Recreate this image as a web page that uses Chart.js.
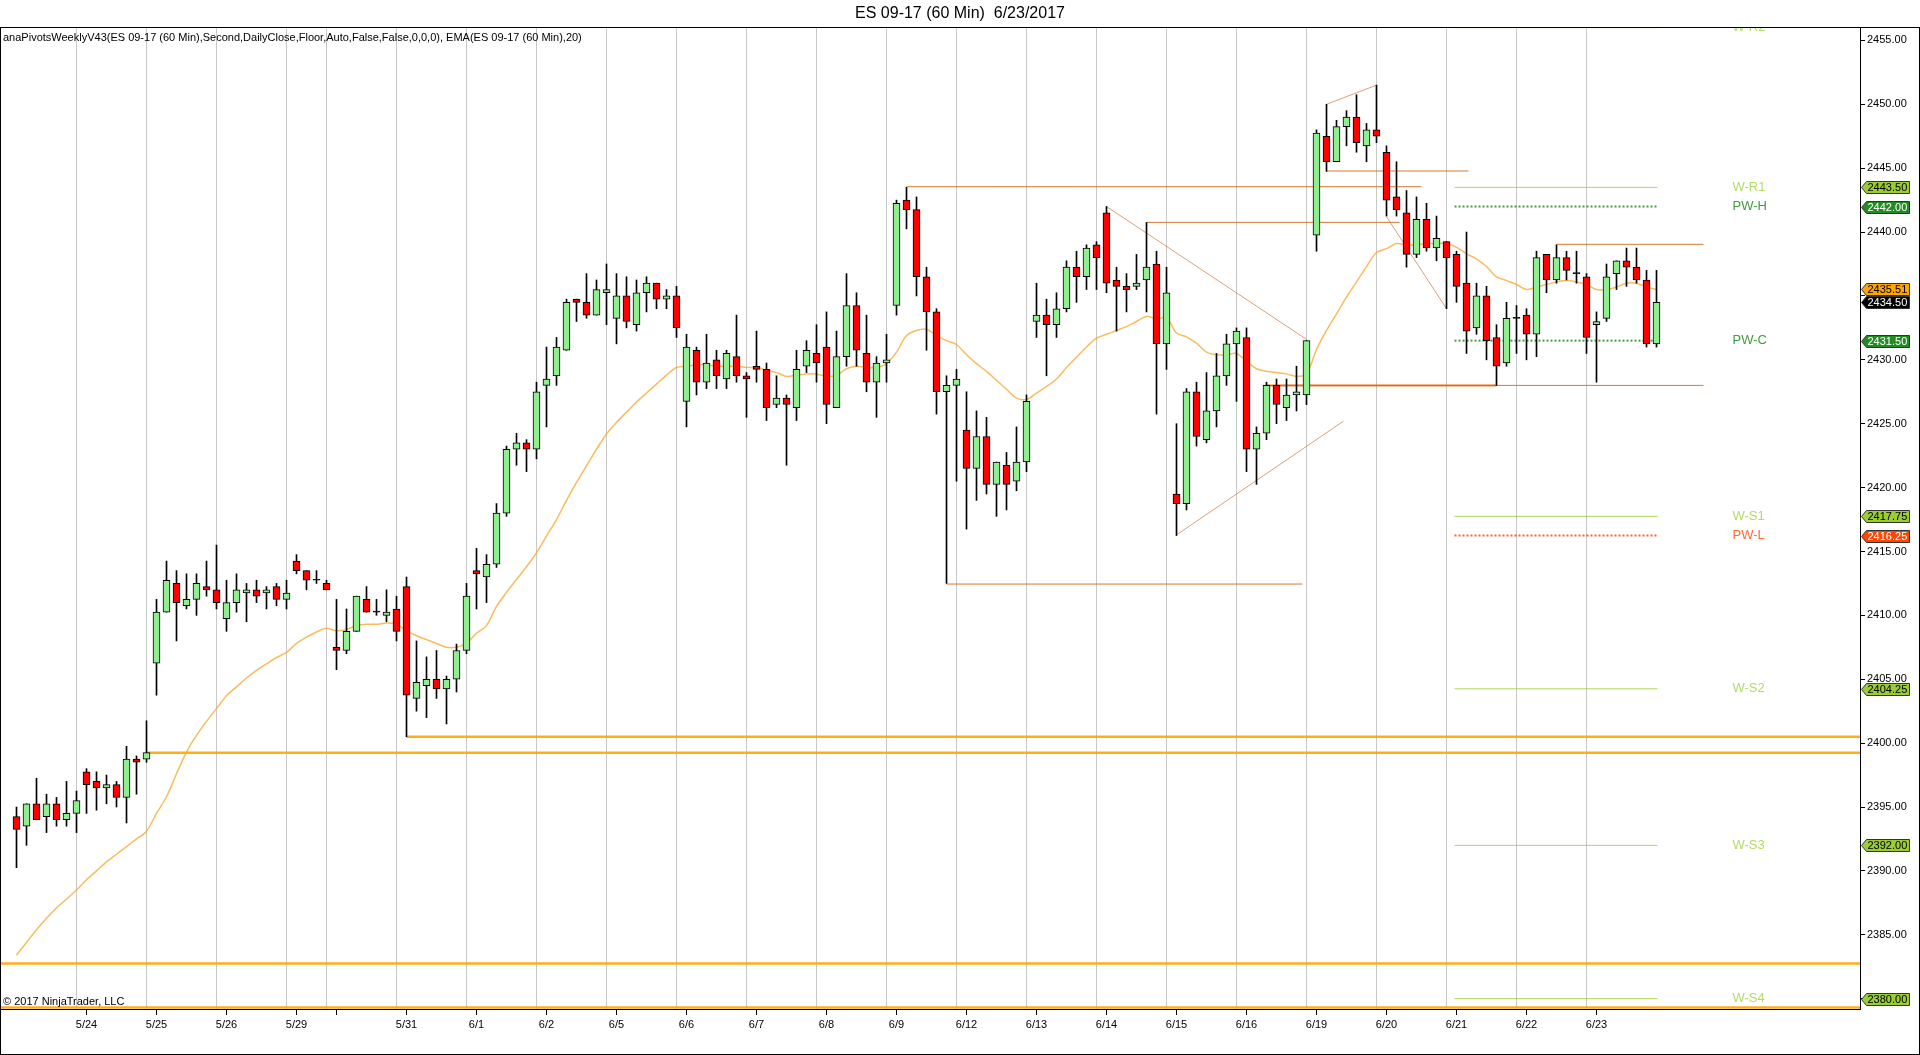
<!DOCTYPE html>
<html>
<head>
<meta charset="utf-8">
<script src="https://cdn.jsdelivr.net/npm/chart.js@4.4.1/dist/chart.umd.min.js"></script>
<style>
  html, body { margin: 0; padding: 0; background: #fff; overflow: hidden; }
  canvas { display: block; }
</style>
</head>
<body>
<canvas id="chart" width="1920" height="1055"></canvas>
<script>
// ---- data ----
const days = ["5/23","5/24","5/25","5/26","5/29","5/30","5/31","6/1","6/2","6/5","6/6","6/7","6/8",
              "6/9","6/12","6/13","6/14","6/15","6/16","6/19","6/20","6/21","6/22","6/23"];
const barsPerDay = [7,7,7,7,4,7,7,7,7,7,7,7,7,7,7,7,7,7,7,7,7,7,7,7];
const unlabeledDays = ["5/23","5/30"];

const opens = [
  2394.25,2393.5,2395.25,2394.25,2395.25,2394.0,2394.5,
  2397.75,2397.0,2396.5,2396.75,2395.75,2398.75,2398.75,
  2406.25,2410.25,2412.5,2410.75,2411.25,2412.25,2412.0,
  2409.75,2411.0,2411.75,2412.0,2411.75,2412.25,2411.25,
  2414.25,2413.5,2412.75,2412.5,
  2407.5,2407.25,2408.75,2411.25,2410.25,2410.0,2410.5,
  2412.25,2403.5,2404.5,2405.0,2404.25,2405.0,2407.25,
  2413.5,2413.0,2414.0,2418.0,2423.0,2423.5,2423.0,
  2428.0,2428.75,2430.75,2434.75,2434.5,2433.5,2435.25,
  2433.25,2435.0,2432.75,2435.25,2436.0,2434.75,2435.0,
  2426.75,2430.75,2428.25,2430.0,2428.5,2430.25,2428.75,
  2429.5,2429.25,2426.5,2427.0,2426.25,2429.5,2430.5,
  2431.0,2426.25,2430.25,2434.25,2430.5,2428.25,2429.75,
  2434.25,2442.5,2441.75,2436.5,2433.75,2427.5,2428.0,
  2424.5,2421.5,2424.0,2420.25,2421.75,2420.5,2422.0,
  2433.0,2433.5,2432.75,2434.0,2437.25,2436.5,2439.0,
  2441.5,2436.25,2435.75,2435.75,2436.25,2437.5,2431.25,
  2419.5,2418.75,2427.5,2423.75,2426.0,2428.75,2431.25,
  2431.75,2423.0,2424.25,2428.0,2426.25,2427.25,2427.25,
  2439.75,2447.5,2445.5,2448.25,2449.0,2446.75,2448.0,
  2446.25,2442.75,2441.5,2438.25,2441.0,2438.75,2439.25,
  2438.25,2436.0,2432.5,2435.0,2431.75,2429.75,2433.25,
  2433.5,2432.0,2438.25,2436.25,2438.0,2436.75,2436.5,
  2432.75,2433.25,2436.75,2437.75,2437.25,2436.25,2431.25
];
const highs = [
  2395.0,2395.25,2397.25,2396.0,2395.75,2397.0,2396.25,
  2398.0,2397.75,2397.5,2397.0,2399.75,2399.0,2401.75,
  2411.25,2414.25,2413.5,2413.25,2413.25,2414.25,2415.5,
  2412.75,2413.25,2412.5,2412.75,2412.25,2412.5,2412.75,
  2414.75,2413.5,2413.5,2412.75,
  2411.25,2410.5,2411.5,2412.25,2411.25,2412.0,2411.5,
  2413.0,2408.0,2406.75,2407.25,2405.25,2407.75,2412.5,
  2415.25,2414.75,2418.75,2423.25,2424.25,2423.75,2428.25,
  2431.0,2431.75,2434.75,2434.75,2436.75,2436.25,2437.5,
  2436.75,2436.5,2436.25,2436.5,2436.0,2435.5,2435.75,
  2432.0,2431.0,2432.0,2430.75,2430.75,2433.5,2429.0,
  2432.25,2429.75,2428.75,2427.25,2430.75,2431.5,2432.75,
  2433.75,2432.25,2436.75,2435.25,2433.5,2430.25,2432.0,
  2442.5,2443.5,2442.75,2437.25,2434.0,2428.75,2429.25,
  2427.5,2426.0,2425.5,2422.0,2422.75,2424.75,2427.25,
  2436.0,2434.75,2435.25,2437.75,2438.5,2439.0,2439.25,
  2442.0,2437.25,2436.75,2438.25,2440.75,2438.5,2437.25,
  2425.0,2427.75,2428.25,2429.0,2430.5,2432.0,2432.5,
  2432.5,2424.75,2428.25,2428.5,2428.5,2429.5,2431.5,
  2448.0,2450.0,2448.75,2449.5,2450.75,2448.5,2451.5,
  2446.75,2445.5,2443.25,2442.75,2442.25,2441.25,2439.25,
  2438.5,2440.0,2436.0,2435.75,2432.75,2434.5,2434.25,
  2434.0,2438.5,2438.25,2439.0,2438.5,2438.5,2436.75,
  2433.75,2437.5,2437.75,2438.75,2438.75,2437.0,2437.0
];
const lows = [
  2390.25,2392.0,2394.0,2393.0,2393.5,2393.5,2393.0,
  2394.5,2394.75,2395.25,2395.0,2393.75,2396.0,2398.5,
  2403.75,2410.25,2408.0,2410.5,2410.0,2411.5,2410.5,
  2408.75,2410.25,2409.5,2411.0,2410.5,2410.75,2410.5,
  2413.25,2412.0,2412.5,2412.0,
  2405.75,2407.0,2408.75,2410.25,2410.0,2409.5,2408.0,
  2400.5,2402.5,2402.0,2403.5,2401.5,2404.0,2407.0,
  2410.5,2411.0,2413.75,2417.75,2421.75,2421.25,2422.25,
  2424.75,2428.0,2430.75,2433.0,2433.25,2433.5,2432.75,
  2431.25,2432.5,2432.25,2433.75,2434.0,2434.0,2431.75,
  2424.75,2427.25,2427.75,2427.75,2427.75,2428.25,2425.5,
  2428.25,2425.25,2426.25,2421.75,2425.25,2429.0,2428.25,
  2425.0,2426.25,2429.5,2429.5,2427.5,2425.5,2428.25,
  2433.5,2440.25,2435.0,2430.75,2425.75,2412.5,2420.5,
  2416.75,2419.0,2419.5,2417.75,2418.25,2419.75,2421.25,
  2431.75,2428.75,2431.75,2433.75,2434.5,2435.5,2435.5,
  2435.25,2432.25,2433.75,2435.5,2433.75,2425.75,2429.25,
  2416.25,2418.25,2423.25,2423.5,2424.75,2428.0,2426.75,
  2421.25,2420.25,2423.75,2425.0,2425.25,2426.0,2426.5,
  2438.5,2444.75,2445.5,2446.75,2446.25,2445.5,2447.0,
  2441.25,2441.25,2437.25,2438.0,2438.5,2437.75,2434.0,
  2434.5,2430.5,2432.0,2430.0,2428.0,2429.5,2430.5,
  2430.0,2430.25,2435.25,2436.0,2436.25,2436.0,2430.5,
  2428.25,2433.0,2435.5,2435.75,2436.0,2431.0,2431.0
];
const closes = [
  2393.25,2395.25,2394.0,2395.25,2394.0,2394.5,2395.5,
  2396.75,2396.5,2396.75,2395.75,2398.75,2398.5,2399.25,
  2410.25,2412.75,2411.0,2411.25,2412.5,2412.0,2411.0,
  2411.0,2412.0,2412.0,2411.5,2412.0,2411.25,2411.75,
  2413.5,2412.75,2412.75,2412.0,
  2407.25,2408.75,2411.5,2410.25,2410.25,2410.25,2408.75,
  2403.75,2404.75,2405.0,2404.25,2405.0,2407.25,2411.5,
  2413.25,2414.0,2418.0,2423.0,2423.5,2423.0,2427.5,
  2428.5,2431.0,2434.5,2434.5,2433.5,2435.5,2435.5,
  2435.0,2433.0,2435.25,2436.0,2434.75,2435.0,2432.5,
  2431.0,2428.25,2429.75,2428.75,2430.5,2428.75,2428.5,
  2429.25,2426.25,2427.0,2426.5,2429.25,2430.75,2429.75,
  2426.5,2430.25,2434.25,2430.75,2428.25,2429.75,2430.0,
  2442.25,2441.75,2436.5,2433.75,2427.5,2428.0,2428.5,
  2421.5,2424.0,2420.25,2422.0,2420.25,2422.0,2426.75,
  2433.5,2432.75,2434.0,2437.25,2436.5,2438.75,2438.0,
  2436.0,2435.75,2435.5,2436.0,2437.25,2431.25,2435.25,
  2418.75,2427.5,2424.0,2426.0,2428.75,2431.25,2432.25,
  2423.0,2424.25,2428.0,2426.5,2427.25,2427.5,2431.5,
  2447.75,2445.5,2448.25,2449.0,2447.0,2448.0,2447.5,
  2442.5,2441.75,2438.25,2441.0,2438.75,2439.5,2438.0,
  2435.75,2432.25,2435.0,2431.5,2429.5,2433.25,2433.25,
  2432.0,2438.0,2436.25,2438.0,2437.0,2436.75,2431.75,
  2433.0,2436.5,2437.75,2437.25,2436.25,2431.25,2434.5
];
const ema20 = [
  2383.4,2384.4,2385.4,2386.3,2387.1,2387.8,2388.5,2389.3,2390.0,2390.7,2391.3,2391.9,2392.5,2393.1,
  2394.5,2395.8,2397.6,2399.3,2400.6,2401.7,2402.7,2403.7,2404.4,2405.1,2405.7,2406.2,2406.7,2407.1,2407.8,
  2408.3,2408.7,2409.0,2408.8,2408.9,2409.2,2409.3,2409.3,2409.4,2409.3,2408.8,2408.4,2408.1,2407.8,2407.5,2407.5,2407.8,
  2408.6,2409.2,2410.7,2411.8,2412.8,2413.8,2414.9,2416.2,2417.5,2419.0,
  2420.4,2421.7,2423.0,2424.2,2425.1,2425.9,2426.7,2427.4,2428.1,2428.8,2429.4,
  2429.5,2429.6,2429.6,2429.5,2429.5,2429.5,2429.4,2429.4,2429.2,2429.0,2428.7,2428.8,2428.9,2428.9,2428.7,2428.8,2429.3,2429.5,2429.4,2429.4,2429.7,
  2430.6,2431.9,2432.3,2432.4,2431.9,2431.5,2431.2,2430.4,2429.7,2429.1,2428.4,2427.7,2427.0,2426.9,2427.4,2427.9,2428.5,2429.4,2430.2,2431.0,2431.7,2432.0,2432.3,2432.6,2433.0,2433.4,2433.2,2433.3,
  2432.1,2431.8,2431.3,2430.6,2430.4,2430.4,2430.5,2429.9,2429.3,2429.1,2429.0,2428.9,2428.7,2428.9,2430.8,2432.3,2433.6,2434.9,2436.1,2437.3,2438.4,
  2438.7,2439.1,2439.0,2439.0,2439.1,2439.1,2439.1,2438.8,2438.3,2437.9,2437.3,2436.5,2436.2,2435.9,2435.5,2435.7,2435.9,2436.1,2436.2,2436.1,2435.9,2435.5,2435.5,2435.7,2436.0,2436.0,2435.7,2435.51
];
const priceTicks = [2380,2385,2390,2395,2400,2405,2410,2415,2420,2425,2430,2435,2440,2445,2450,2455];

const pivotNames  = ["W-R2","W-R1","PW-H","PW-C","W-S1","PW-L","W-S2","W-S3","W-S4"];
const pivotValues = [2456.0,2443.5,2442.0,2431.5,2417.75,2416.25,2404.25,2392.0,2380.0];

// thick orange levels: price and first bar (null = from the left edge)
const orangeLevels   = [2399.25, 2400.5, 2382.75, 2379.3];
const orangeFromBars = [13, 39, null, null];

// hand-drawn lines: [bar1, price1, bar2, price2]
const trendLines = [
  [89, 2443.55, 140.5, 2443.55],
  [113, 2440.76, 138.3, 2440.76],
  [131, 2444.78, 145.2, 2444.78],
  [93, 2412.45, 128.6, 2412.45],
  [125, 2428.0, 168.7, 2428.0],
  [154, 2439.04, 168.7, 2439.04],
  [131, 2450.0, 136, 2451.5],
  [109, 2442.0, 129, 2431.6],
  [116, 2416.3, 132.7, 2425.2],
  [137, 2441.2, 143, 2434.0]
];
const supportSegment = [125, 2428.0, 148, 2428.0];

const titleText = "ES 09-17 (60 Min)  6/23/2017";
const indicatorText = "anaPivotsWeeklyV43(ES 09-17 (60 Min),Second,DailyClose,Floor,Auto,False,False,0,0,0), EMA(ES 09-17 (60 Min),20)";
const copyrightText = "\u00a9 2017 NinjaTrader, LLC";

// ---- layout helpers ----
const FONT = "'Liberation Sans', Arial, sans-serif";
const XMIN = -1.55, XMAX = 184.35;
const YMIN = 2379.19, YMAX = 2456.05;
const LEVEL_FROM = 143.8, LEVEL_TO = 164.1, LABEL_BAR = 171.6;

const dayFirstBar = [];
let count = 0;
barsPerDay.forEach(b => { dayFirstBar.push(count); count += b; });
const tickBars = dayFirstBar.slice(1);
const tickText = days.slice(1).map(d => unlabeledDays.includes(d) ? "" : d);
const gridBars = tickBars.map(b => b - 1);

const UP = "#90EE90", DOWN = "#FF0000";
const bodyColors = opens.map((o, i) => closes[i] > o ? UP : (closes[i] < o ? DOWN : "#000"));

function pivotStyle(name) {
  if (name === "PW-H" || name === "PW-C") return { line: "rgba(34,139,34,0.85)", text: "rgba(34,139,34,0.85)", dash: [2, 2], width: 2, tag: "#228B22", tagText: "#fff" };
  if (name === "PW-L") return { line: "rgba(255,69,0,0.85)", text: "rgba(255,69,0,0.8)", dash: [2, 2], width: 2, tag: "#FF4500", tagText: "#fff" };
  return { line: "rgba(154,205,50,0.8)", text: "rgba(154,205,50,0.75)", dash: [], width: 1, tag: "#9ACD32", tagText: "#000" };
}

const datasets = [];
datasets.push({
  type: "bar", label: "body",
  data: opens.map((o, i) => ({ x: i, y: [o, closes[i]] })),
  backgroundColor: bodyColors, borderColor: "#000", borderWidth: 1, borderSkipped: false,
  barThickness: 7, minBarLength: 1, grouped: false, order: 0
});
datasets.push({
  type: "bar", label: "wick",
  data: lows.map((l, i) => ({ x: i, y: [l, highs[i]] })),
  backgroundColor: "#000", borderWidth: 0, barThickness: 1, grouped: false, order: 1
});
datasets.push({
  type: "line", label: "EMA",
  data: ema20.map((v, i) => ({ x: i, y: v })),
  borderColor: "rgba(245,165,40,0.75)", borderWidth: 1.5, pointRadius: 0, tension: 0.3, order: 4
});
orangeLevels.forEach((v, i) => {
  datasets.push({
    type: "line", label: "lvl" + i,
    data: [{ x: orangeFromBars[i] === null ? XMIN : orangeFromBars[i], y: v }, { x: XMAX, y: v }],
    borderColor: "rgba(255,165,0,0.9)", borderWidth: 2.5, pointRadius: 0, order: 3
  });
});
trendLines.forEach((t, i) => {
  const flat = t[1] === t[3];
  datasets.push({
    type: "line", label: "tl" + i,
    data: [{ x: t[0], y: t[1] }, { x: t[2], y: t[3] }],
    borderColor: flat ? "rgba(210,105,30,0.9)" : "rgba(205,120,60,0.7)", borderWidth: 1, pointRadius: 0, order: 3
  });
});
datasets.push({
  type: "line", label: "support",
  data: [{ x: supportSegment[0], y: supportSegment[1] }, { x: supportSegment[2], y: supportSegment[3] }],
  borderColor: "rgba(235,115,25,0.9)", borderWidth: 2, pointRadius: 0, order: 3
});
pivotNames.forEach((nm, i) => {
  const st = pivotStyle(nm);
  datasets.push({
    type: "line", label: nm,
    data: [{ x: LEVEL_FROM, y: pivotValues[i] }, { x: LEVEL_TO, y: pivotValues[i] }],
    borderColor: st.line, borderWidth: st.width, borderDash: st.dash, pointRadius: 0, order: 3
  });
});

const decor = {
  id: "decor",
  afterDraw(chart) {
    const { ctx, chartArea: a, scales: { x, y } } = chart;
    ctx.save();
    ctx.fillStyle = "#000";
    ctx.textBaseline = "middle";
    ctx.textAlign = "center";
    ctx.font = "16px " + FONT;
    ctx.fillText(titleText, chart.width / 2, 14);

    ctx.textAlign = "left";
    ctx.font = "11px " + FONT;
    ctx.fillText(indicatorText, a.left + 2, a.top + 11);
    ctx.fillText(copyrightText, a.left + 2, a.bottom - 7);

    // pivot names inside the plot
    ctx.save();
    ctx.beginPath();
    ctx.rect(a.left, a.top, a.right - a.left, a.bottom - a.top);
    ctx.clip();
    ctx.font = "13px " + FONT;
    pivotNames.forEach((nm, i) => {
      ctx.fillStyle = pivotStyle(nm).text;
      ctx.fillText(nm, x.getPixelForValue(LABEL_BAR), y.getPixelForValue(pivotValues[i]));
    });
    ctx.restore();

    // price tags on the axis (only for levels inside the labelled range)
    const topTick = priceTicks[priceTicks.length - 1];
    const tags = [];
    pivotNames.forEach((nm, i) => {
      if (pivotValues[i] <= topTick) {
        const st = pivotStyle(nm);
        tags.push({ v: pivotValues[i], fill: st.tag, text: st.tagText });
      }
    });
    tags.push({ v: ema20[ema20.length - 1], fill: "#FFA500", text: "#000" });
    tags.push({ v: closes[closes.length - 1], fill: "#000", text: "#fff" });
    ctx.font = "11px " + FONT;
    tags.forEach(t => {
      const yy = Math.round(y.getPixelForValue(t.v)) + 0.5;
      const x0 = a.right + 1.5, x1 = x0 + 5, x2 = x0 + 48;
      ctx.beginPath();
      ctx.moveTo(x0, yy);
      ctx.lineTo(x1, yy - 6);
      ctx.lineTo(x2, yy - 6);
      ctx.lineTo(x2, yy + 6);
      ctx.lineTo(x1, yy + 6);
      ctx.closePath();
      ctx.fillStyle = t.fill;
      ctx.fill();
      ctx.strokeStyle = "#333";
      ctx.lineWidth = 1;
      ctx.stroke();
      ctx.fillStyle = t.text;
      ctx.fillText(t.v.toFixed(2), x1 + 1, yy + 0.5);
    });

    // outer frame
    ctx.strokeStyle = "#000";
    ctx.lineWidth = 1;
    ctx.strokeRect(0.5, a.top + 0.5, chart.width - 1, chart.height - a.top - 1);
    ctx.restore();
  }
};

new Chart(document.getElementById("chart"), {
  type: "bar",
  data: { datasets },
  plugins: [decor],
  options: {
    responsive: false,
    animation: false,
    devicePixelRatio: 1,
    layout: { padding: { top: 27, left: 1, right: 0, bottom: 0 } },
    plugins: { legend: { display: false }, tooltip: { enabled: false }, title: { display: false } },
    scales: {
      x: {
        type: "linear", position: "bottom", min: XMIN, max: XMAX, offset: false,
        afterBuildTicks: s => { s.ticks = tickBars.map(v => ({ value: v })); },
        afterFit: s => { s.height = 46; },
        ticks: {
          autoSkip: false, maxRotation: 0, padding: 3, color: "#000",
          font: { size: 11, family: FONT },
          callback: (v, i) => tickText[i]
        },
        grid: { drawOnChartArea: false, offset: false, color: "#000", tickLength: 6 },
        border: { color: "#000" }
      },
      xg: {
        type: "linear", position: "bottom", min: XMIN, max: XMAX, offset: false,
        afterBuildTicks: s => { s.ticks = gridBars.map(v => ({ value: v })); },
        afterFit: s => { s.height = 0; },
        ticks: { display: false },
        grid: { color: "#C8C8C8", drawTicks: false, offset: false },
        border: { display: false }
      },
      y: {
        type: "linear", position: "right", min: YMIN, max: YMAX, beginAtZero: false,
        afterBuildTicks: s => { s.ticks = priceTicks.map(v => ({ value: v })); },
        afterFit: s => { s.width = 60; },
        ticks: { padding: 2, color: "#000", font: { size: 11, family: FONT }, callback: v => v.toFixed(2) },
        grid: { drawOnChartArea: false, color: "#000", tickLength: 5 },
        border: { color: "#000" }
      }
    }
  }
});
</script>
</body>
</html>
